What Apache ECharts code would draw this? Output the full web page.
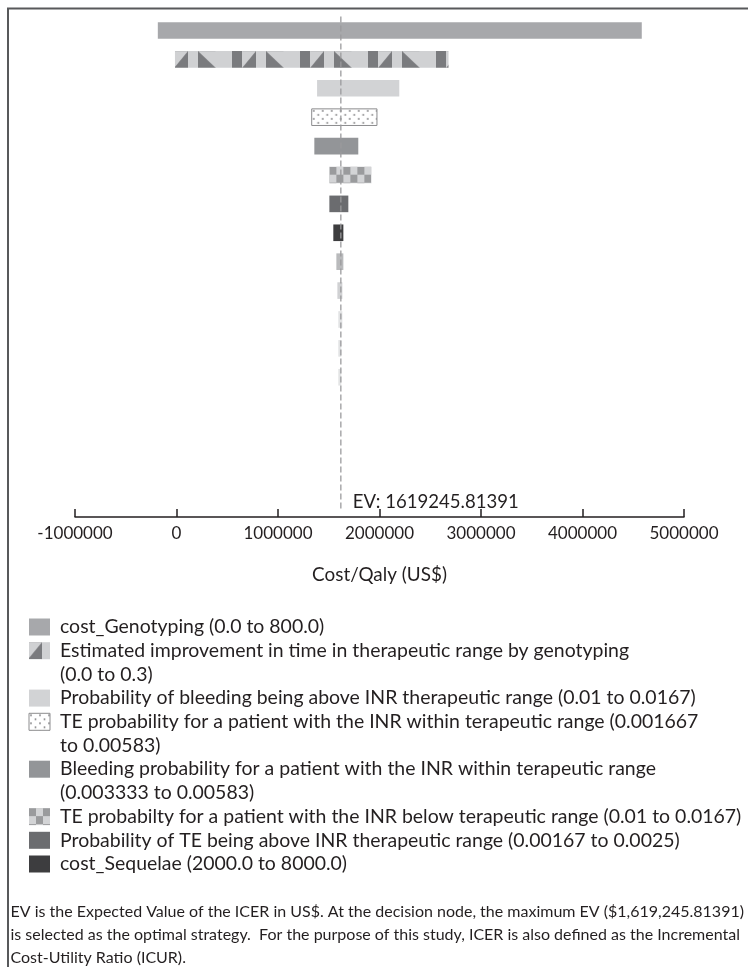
<!DOCTYPE html>
<html><head><meta charset="utf-8">
<script src="https://cdn.jsdelivr.net/npm/echarts@6/dist/echarts.min.js"></script>
<style>html,body{margin:0;padding:0;background:#fff}#c{width:748px;height:967px}</style>
</head><body><div id="c"></div>
<script>
// ---------------- data ----------------
const variableNames = [
  'cost_Genotyping (0.0 to 800.0)',
  'Estimated improvement in time in therapeutic range by genotyping\n(0.0 to 0.3)',
  'Probability of bleeding being above INR therapeutic range (0.01 to 0.0167)',
  'TE probability for a patient with the INR within terapeutic range (0.001667\nto 0.00583)',
  'Bleeding probability for a patient with the INR within terapeutic range\n(0.003333 to 0.00583)',
  'TE probabilty for a patient with the INR below terapeutic range (0.01 to 0.0167)',
  'Probability of TE being above INR therapeutic range (0.00167 to 0.0025)',
  'cost_Sequelae (2000.0 to 8000.0)',
  'Variable 9', 'Variable 10', 'Variable 11', 'Variable 12', 'Variable 13'
];
const legendCount = 8;
const lowValues  = [-184000, -15000, 1385000, 1332000, 1358000, 1506000, 1506000, 1545000, 1575000, 1585000, 1594000, 1594000, 1594000];
const highValues = [4584000, 2680000, 2195000, 1975000, 1791000, 1919000, 1693000, 1644000, 1644000, 1634000, 1634000, 1624000, 1624000];
const xTicks = [-1000000, 0, 1000000, 2000000, 3000000, 4000000, 5000000];
const evValue = 1619245.81391;
const evLabel = 'EV: 1619245.81391';
const xAxisTitle = 'Cost/Qaly (US$)';
const footnoteLines = [
  'EV is the Expected Value of the ICER in US$. At the decision node, the maximum EV ($1,619,245.81391)',
  'is selected as the optimal strategy.  For the purpose of this study, ICER is also defined as the Incremental',
  'Cost-Utility Ratio (ICUR).'
];

// ---------------- styles ----------------
const FONT = 'Lato';
const TXT = '#231f20';
const mctx = document.createElement('canvas').getContext('2d');
function fitSize(text, target) {
  mctx.font = '100px ' + FONT;
  return 100 * target / mctx.measureText(text).width;
}
const tickFont = fitSize('1000000', 69);
const titleFont = fitSize(xAxisTitle, 135);
const evFont = fitSize(evLabel, 166);
const legendFont = Math.min(
  fitSize('Probability of bleeding being above INR therapeutic range (0.01 to 0.0167)', 645),
  fitSize('TE probabilty for a patient with the INR below terapeutic range (0.01 to 0.0167)', 682));
const noteFont = fitSize(footnoteLines[0], 734);

function makeTile(w, h, draw) {
  const c = document.createElement('canvas'); c.width = w; c.height = h;
  draw(c.getContext('2d'), w, h); return c;
}
const triTile = makeTile(68, 17, (g, w, h) => {
  g.fillStyle = '#d0d1d3'; g.fillRect(0, 0, w, h);
  g.fillStyle = '#7a7b7e';
  g.fillRect(0, 0, 10, h);
  g.beginPath(); g.moveTo(10, h); g.lineTo(24, 0); g.lineTo(24, h); g.closePath(); g.fill();
  g.beginPath(); g.moveTo(34, 0); g.lineTo(52, h); g.lineTo(34, h); g.closePath(); g.fill();
});
const dotTile = makeTile(9, 8, (g, w, h) => {
  g.fillStyle = '#ffffff'; g.fillRect(0, 0, w, h);
  g.fillStyle = '#8e8e90';
  g.beginPath(); g.arc(2, 2, 1, 0, Math.PI * 2); g.fill();
  g.beginPath(); g.arc(6.5, 6, 1, 0, Math.PI * 2); g.fill();
});
const checkTile = makeTile(14, 16, (g, w, h) => {
  g.fillStyle = '#d3d4d6'; g.fillRect(0, 0, w, h);
  g.fillStyle = '#9a9b9d'; g.fillRect(0, 0, 7, 8); g.fillRect(7, 8, 7, 8);
});
const barStyles = [
  {color: '#a7a8ab'},
  {tile: triTile, phase: 11},
  {color: '#d2d3d5'},
  {tile: dotTile, stroke: '#8c8c8e'},
  {color: '#939598'},
  {tile: checkTile},
  {color: '#6b6c6f'},
  {color: '#3d3d3f'},
  {color: '#b9babc'},
  {color: '#d0d1d3'},
  {color: '#e2e3e4'},
  {color: '#e2e3e4'},
  {color: '#e3e4e5'}
];
function fillStyle(st, x, y) {
  const s = {};
  if (st.tile) s.fill = {image: st.tile, repeat: 'repeat', x: x - (st.phase || 0), y: y};
  else s.fill = st.color;
  if (st.stroke) { s.stroke = st.stroke; s.lineWidth = 1; }
  return s;
}

const barData = variableNames.map((n, i) => ({name: n, value: [i, lowValues[i], highValues[i]]}));

function renderBar(params, api) {
  const row = api.value(0);
  const a = api.coord([api.value(1), row]);
  const b = api.coord([api.value(2), row]);
  const h = api.size([0, 1])[1] * 0.575;
  const x = Math.min(a[0], b[0]);
  const w = Math.max(Math.abs(b[0] - a[0]), 0.5);
  const y = a[1] - h / 2;
  return {type: 'rect', shape: {x: x, y: y, width: w, height: h},
          style: fillStyle(barStyles[params.dataIndex], x, y)};
}

// legend (graphic) layout: uniform line pitch
const LINE = 23.7;
const legendGraphics = [];
let ly = 627; // centre of first line
for (let i = 0; i < legendCount; i++) {
  const lines = variableNames[i].split('\n').length;
  const rx = 29, rw = 21, rh = 17, ry = ly - rh / 2;
  legendGraphics.push({type: 'rect', shape: {x: rx, y: ry, width: rw, height: rh},
    style: fillStyle(barStyles[i], rx, ry), silent: true});
  legendGraphics.push({type: 'text', x: 60, y: ly - LINE / 2, silent: true,
    style: {text: variableNames[i], font: legendFont.toFixed(2) + 'px ' + FONT, fill: TXT,
            lineHeight: LINE, verticalAlign: 'top', align: 'left'}});
  ly += LINE * lines;
}

const chart = echarts.init(document.getElementById('c'), null, {renderer: 'canvas'});
chart.setOption({
  animation: false,
  backgroundColor: '#ffffff',
  textStyle: {fontFamily: FONT},
  grid: {left: 75, right: 64, top: 14, bottom: 967 - 517},
  xAxis: {
    type: 'value', min: xTicks[0], max: xTicks[xTicks.length - 1], interval: 1000000,
    position: 'bottom',
    axisLine: {show: true, onZero: false, lineStyle: {color: TXT, width: 1.5}},
    axisTick: {show: true, inside: true, length: 8, lineStyle: {color: TXT, width: 1.5}},
    axisLabel: {show: true, color: TXT, fontSize: tickFont, fontFamily: FONT, margin: 8,
                formatter: v => String(v)},
    splitLine: {show: false},
    name: xAxisTitle, nameLocation: 'middle', nameGap: 48,
    nameTextStyle: {color: TXT, fontSize: titleFont, fontFamily: FONT}
  },
  yAxis: {type: 'value', inverse: true, min: -0.57, max: 16.835, show: false},
  series: [{
    type: 'custom', name: 'Tornado', renderItem: renderBar,
    encode: {x: [1, 2], y: 0}, data: barData, z: 2
  }, {
    type: 'line', name: 'EV', z: 5,
    data: [[evValue, -0.48], {value: [evValue, 16.55],
      label: {show: true, position: 'right', distance: 5, offset: [7, -7], formatter: evLabel,
              color: TXT, fontSize: evFont, fontFamily: FONT}}],
    symbol: 'circle', symbolSize: 0, showSymbol: true,
    lineStyle: {color: '#9a9a9c', width: 1.3, type: [6, 3]},
    itemStyle: {color: '#9a9a9c'}
  }],
  graphic: [
    {type: 'polyline', silent: true, shape: {points: [[8, 967], [8, 8.5], [748, 8.5]]},
     style: {stroke: '#58595b', lineWidth: 2, fill: null}},
    ...legendGraphics,
    {type: 'text', x: 10.5, y: 900.5, silent: true,
     style: {text: footnoteLines.join('\n'), font: noteFont.toFixed(2) + 'px ' + FONT, fill: TXT,
             lineHeight: 23, verticalAlign: 'top'}}
  ]
});
</script></body></html>
